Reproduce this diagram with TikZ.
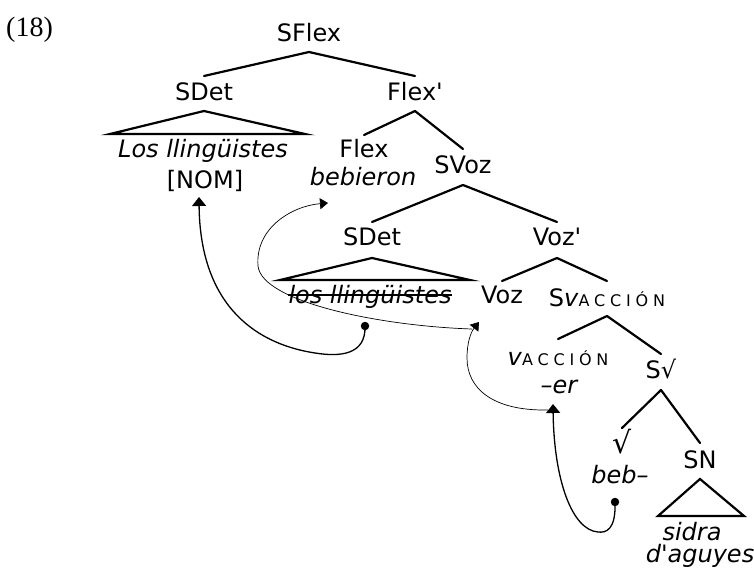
\documentclass[tikz,border=0pt]{standalone}
\usepackage{fontspec}
\setmainfont{DejaVu Sans}
\newfontfamily\tf{DejaVu Sans}
\newfontfamily\numfont{Liberation Serif}
\usetikzlibrary{arrows.meta,calc}
\newcommand\accion{{\fontsize{16}{18}\selectfont\addfontfeature{LetterSpace=30}ACCIÓN}}
\begin{document}
\begin{tikzpicture}[x=1pt,y=-1pt,
  lab/.style={inner sep=0pt, anchor=base, font=\tf\fontsize{24}{28}\selectfont},
  it/.style={lab, font=\tf\itshape\fontsize{24}{28}\selectfont},
  edge/.style={line width=2.2pt, line cap=round},
  tri/.style={line width=2.2pt, line join=miter},
  thinarrow/.style={line width=0.7pt, -{Triangle[width=11pt,length=8pt]}},
  thickarrow/.style={line width=1.3pt, -{Triangle[width=14pt,length=9pt]}},
  dotmark/.style={circle, fill, inner sep=0pt, minimum size=8.5pt}]
\useasboundingbox (0,0) rectangle (754,573);
% label
\node[inner sep=0pt, anchor=base west, font=\numfont\fontsize{28}{32}\selectfont] (n18) at (6,36) {(18)};
% nodes
\node[lab] (SFlex) at (309,41) {SFlex};
\node[lab] (SDet) at (204,100) {SDet};
\node[lab] (Flexp) at (415,100) {Flex'};
\node[it]  (Los) at (203,157) {Los llingüistes};
\node[lab] (NOM) at (205,188) {[NOM]};
\node[lab] (Flex) at (364,157) {Flex};
\node[it]  (bebieron) at (363,185) {bebieron};
\node[lab] (SVoz) at (463,173) {SVoz};
\node[lab] (SDetb) at (372,245) {SDet};
\node[lab] (Vozp) at (557,245) {Voz'};
\node[it]  (los) at (370,303) {los llingüistes};
\node[lab] (Voz) at (502,303) {Voz};
\node[lab] (SvA) at (607,306) {S\textit{v}\accion};
\node[lab] (vA) at (558,365) {\textit{v}\accion};
\node[it]  (er) at (559,393) {–er};
\node[lab] (Sroot) at (661,378) {S{\fontsize{24}{26}\selectfont √}};
\node[lab] (root) at (622,453) {{\fontsize{30}{32}\selectfont √}};
\node[it]  (beb) at (620,483) {beb–};
\node[lab] (SN) at (700,468) {SN};
\node[it]  (sidra) at (692,540) {sidra};
\node[it]  (daguyes) at (700,562) {d'aguyes};
% tree edges
\draw[edge] ([yshift=-11pt]SFlex.base) -- ([yshift=24pt]SDet.base);
\draw[edge] ([yshift=-11pt]SFlex.base) -- ([yshift=24pt]Flexp.base);
\draw[edge] ([yshift=-11pt]Flexp.base) -- ([yshift=22pt]Flex.base);
\draw[edge] ([yshift=-11pt]Flexp.base) -- ([yshift=24pt]SVoz.base);
\draw[edge] ([yshift=-12pt]SVoz.base) -- ([yshift=23pt]SDetb.base);
\draw[edge] ([yshift=-12pt]SVoz.base) -- ([yshift=23pt]Vozp.base);
\draw[edge] ([yshift=-13pt]Vozp.base) -- ([yshift=22pt]Voz.base);
\draw[edge] ([yshift=-13pt]Vozp.base) -- ([yshift=25pt]SvA.base);
\draw[edge] ([yshift=-10pt]SvA.base) -- ([yshift=26pt]vA.base);
\draw[edge] ([yshift=-10pt]SvA.base) -- ([yshift=24pt]Sroot.base);
\draw[edge] ([yshift=-12pt]Sroot.base) -- ([yshift=25pt]root.base);
\draw[edge] ([yshift=-12pt]Sroot.base) -- ([yshift=25pt]SN.base);
% triangles
\draw[tri] ([yshift=-11pt]SDet.base) -- (110,134) -- (305,134) -- cycle;
\draw[tri] ([yshift=-13pt]SDetb.base) -- (280,280) -- (470,280) -- cycle;
\draw[tri] ([yshift=-11pt]SN.base) -- (658,516) -- (744,516) -- cycle;
% strike-out
\draw[line width=1.6pt] ([yshift=8pt]los.base west) -- ([yshift=8pt]los.base east);
% movement arrows
\node[dotmark] (d1) at (365,326) {};
\node[dotmark] (d2) at (615,502) {};
\coordinate (t1) at (199,197);
\coordinate (c2s) at (472,329);
\coordinate (t2) at (328,203);
\coordinate (c3s) at (548,410);
\coordinate (t3) at (479,322);
\coordinate (t4) at (553,404);
\draw[thickarrow] (d1.center) .. controls (366,355) and (340,357) .. (315,353) .. controls (250,343) and (200,300) .. (t1);
\draw[thinarrow] (c2s) .. controls (380,326) and (262,302) .. (258,266) .. controls (255,228) and (292,206) .. (t2);
\draw[thinarrow] (c3s) .. controls (492,411) and (467,388) .. (467,358) .. controls (467,342) and (471,332) .. (t3);
\draw[thickarrow] (d2.center) .. controls (616,530) and (606,533) .. (598,532) .. controls (572,530) and (554,480) .. (t4);
\end{tikzpicture}
\end{document}
